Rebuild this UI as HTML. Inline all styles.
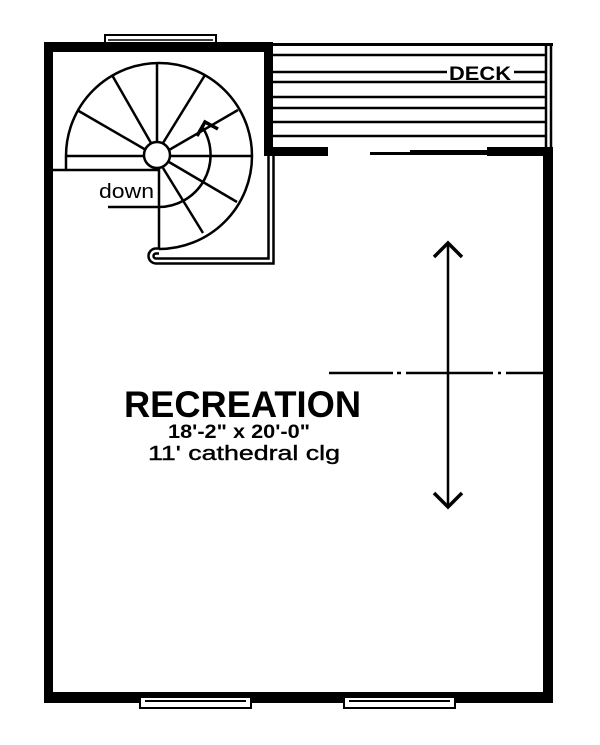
<!DOCTYPE html>
<html><head><meta charset="utf-8"><style>
html,body{margin:0;padding:0;background:#fff;}
svg{display:block;}
text{font-family:"Liberation Sans",sans-serif;fill:#000;}
</style></head><body>
<svg width="600" height="745" viewBox="0 0 600 745" xmlns="http://www.w3.org/2000/svg">
<g fill="#000">
<rect x="44" y="42" width="9" height="661"/>
<rect x="44" y="42" width="228" height="10"/>
<rect x="264" y="42" width="9" height="114"/>
<rect x="44" y="692" width="509" height="11"/>
<rect x="543" y="148" width="10" height="555"/>
<rect x="272" y="147" width="56" height="9"/>
<rect x="487" y="147" width="66" height="9"/>
<rect x="370" y="152" width="80" height="3"/>
<rect x="410" y="150" width="77" height="5"/>
<rect x="272" y="43" width="281" height="3"/>
</g>
<rect x="105" y="35" width="111" height="8" fill="#fff" stroke="#000" stroke-width="2"/>
<line x1="108" y1="40" x2="213" y2="40" stroke="#000" stroke-width="1.5"/>
<rect x="140" y="697" width="111" height="11" fill="#fff" stroke="#000" stroke-width="2"/>
<line x1="145" y1="701" x2="246" y2="701" stroke="#000" stroke-width="2"/>
<rect x="344" y="697" width="111" height="11" fill="#fff" stroke="#000" stroke-width="2"/>
<line x1="349" y1="701" x2="450" y2="701" stroke="#000" stroke-width="2"/>
<g stroke="#000" stroke-width="2.5">
<line x1="272" y1="55" x2="545" y2="55"/>
<line x1="272" y1="72" x2="447" y2="72"/>
<line x1="514" y1="72" x2="545" y2="72"/>
<line x1="272" y1="82" x2="545" y2="82"/>
<line x1="272" y1="97" x2="545" y2="97"/>
<line x1="272" y1="108" x2="545" y2="108"/>
<line x1="272" y1="122" x2="545" y2="122"/>
<line x1="272" y1="136" x2="545" y2="136"/>
<line x1="546" y1="45" x2="546" y2="148"/>
<line x1="551" y1="45" x2="551" y2="148"/>
</g>
<text x="449" y="80" font-size="19" font-weight="bold" textLength="62" lengthAdjust="spacingAndGlyphs">DECK</text>
<g stroke="#000" stroke-width="2.5" fill="none">
<path d="M66 170 L66 156 A93 93 0 1 1 159 249"/>
<line x1="53" y1="170" x2="159" y2="170"/>
<line x1="66" y1="156" x2="144" y2="156"/>
<line x1="170" y1="156" x2="252" y2="156"/>
<line x1="159" y1="168" x2="159" y2="249"/>
<line x1="146" y1="150" x2="77" y2="110"/>
<line x1="151" y1="143" x2="112" y2="75"/>
<line x1="157" y1="142" x2="157" y2="62"/>
<line x1="163" y1="143" x2="205" y2="75"/>
<line x1="169" y1="150" x2="238" y2="110"/>
<line x1="169" y1="162" x2="237" y2="202"/>
<line x1="163" y1="168" x2="203" y2="233"/>
<circle cx="157" cy="155" r="13"/>
<path d="M108 207 L157 207 A52 52 0 0 0 203 128"/>
<path d="M197 136 L205 122 L218 129" stroke-width="3.5"/>
</g>
<path d="M159 251 L156 251 A5 5 0 0 0 156 261 L271 261 L271 156" fill="none" stroke="#000" stroke-width="7.5"/>
<path d="M159 251 L156 251 A5 5 0 0 0 156 261 L271 261 L271 156" fill="none" stroke="#fff" stroke-width="2.5"/>
<text x="99" y="198" font-size="20" textLength="55" lengthAdjust="spacingAndGlyphs">down</text>
<g stroke="#000" fill="none">
<line x1="448" y1="243" x2="448" y2="507" stroke-width="2.5"/>
<path d="M434 257 L448 243 L462 257" stroke-width="3.5"/>
<path d="M434 493 L448 507 L462 493" stroke-width="3.5"/>
<path d="M329 373 H393 M397 373 H401 M406 373 H493 M498 373 H501 M506 373 H545" stroke-width="2.5"/>
</g>
<text x="124" y="417" font-size="37" font-weight="bold" textLength="237" lengthAdjust="spacingAndGlyphs">RECREATION</text>
<text x="168" y="438" font-size="19" font-weight="bold" textLength="142" lengthAdjust="spacingAndGlyphs">18'-2" x 20'-0"</text>
<text x="148" y="460" font-size="20" textLength="192" lengthAdjust="spacingAndGlyphs" stroke="#000" stroke-width="0.4">11' cathedral clg</text>
</svg>
</body></html>
